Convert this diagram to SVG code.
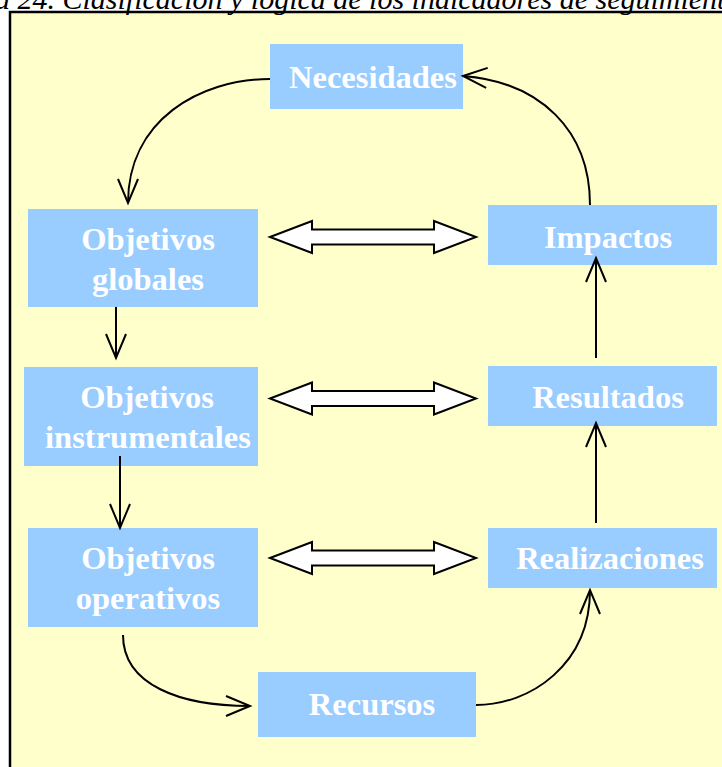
<svg xmlns="http://www.w3.org/2000/svg" width="722" height="767" viewBox="0 0 722 767">
<defs>
<style>
.box{fill:#99CCFF;}
.lbl{font-family:"Liberation Serif","Times New Roman",serif;font-weight:bold;font-size:32.5px;fill:#FFFFFF;text-anchor:middle;}
.title{font-family:"Liberation Serif","Times New Roman",serif;font-style:italic;font-size:30px;fill:#000000;}
.conn{fill:none;stroke:#000000;stroke-width:2;}
.dbl{fill:#FFFFFF;stroke:#000000;stroke-width:2;stroke-linejoin:miter;}
</style>
<marker id="open" markerUnits="userSpaceOnUse" markerWidth="40" markerHeight="40" refX="0" refY="0" orient="auto" overflow="visible">
<path d="M-24,-10 L0,0 L-24,10" fill="none" stroke="#000000" stroke-width="2"/>
</marker>
</defs>
<rect width="722" height="767" fill="#FFFFFF"/>
<rect x="10" y="12" width="730" height="770" fill="#FFFFCC" stroke="#000000" stroke-width="2.5"/>
<text class="title" x="-5" y="9">a 24. Clasificación y lógica de los indicadores de seguimiento</text>

<g id="necesidades"><rect class="box" x="270" y="44" width="193" height="65"/><text class="lbl" x="373" y="88">Necesidades</text></g>
<g id="objetivos-globales"><rect class="box" x="28" y="209" width="230" height="98"/><text class="lbl" x="148" y="250">Objetivos</text><text class="lbl" x="148" y="290">globales</text></g>
<g id="impactos"><rect class="box" x="488" y="205" width="229" height="60"/><text class="lbl" x="608" y="248">Impactos</text></g>
<g id="objetivos-instrumentales"><rect class="box" x="24" y="367" width="234" height="99"/><text class="lbl" x="147" y="408">Objetivos</text><text class="lbl" x="148" y="448">instrumentales</text></g>
<g id="resultados"><rect class="box" x="488" y="366" width="229" height="60"/><text class="lbl" x="608" y="408">Resultados</text></g>
<g id="objetivos-operativos"><rect class="box" x="28" y="528" width="230" height="99"/><text class="lbl" x="148" y="569">Objetivos</text><text class="lbl" x="148" y="609">operativos</text></g>
<g id="realizaciones"><rect class="box" x="488" y="528" width="229" height="60"/><text class="lbl" x="610" y="569">Realizaciones</text></g>
<g id="recursos"><rect class="box" x="258" y="672" width="218" height="65"/><text class="lbl" x="372" y="715">Recursos</text></g>

<g id="connectors">
<path class="conn" d="M270,79 C200,79 128,120 128,203" marker-end="url(#open)"/>
<path class="conn" d="M116,307 L116,358" marker-end="url(#open)"/>
<path class="conn" d="M120,456 L120,528" marker-end="url(#open)"/>
<path class="conn" d="M123,635 C123,685 180,706 250,706" marker-end="url(#open)"/>
<path class="conn" d="M476,705 C530,705 590,665 590,590" marker-end="url(#open)"/>
<path class="conn" d="M596,523 L596,423" marker-end="url(#open)"/>
<path class="conn" d="M596,358 L596,258" marker-end="url(#open)"/>
<path class="conn" d="M590,205 C590,130 540,82 463,76" marker-end="url(#open)"/>
<polygon class="dbl" points="270,237 312,221 312,229.5 434,229.5 434,221 476,237 434,253 434,244.5 312,244.5 312,253"/>
<polygon class="dbl" points="270,398.5 312,382.5 312,391 434,391 434,382.5 476,398.5 434,414.5 434,406 312,406 312,414.5"/>
<polygon class="dbl" points="270,558 312,542 312,550.5 434,550.5 434,542 476,558 434,574 434,565.5 312,565.5 312,574"/>
</g>
</svg>
